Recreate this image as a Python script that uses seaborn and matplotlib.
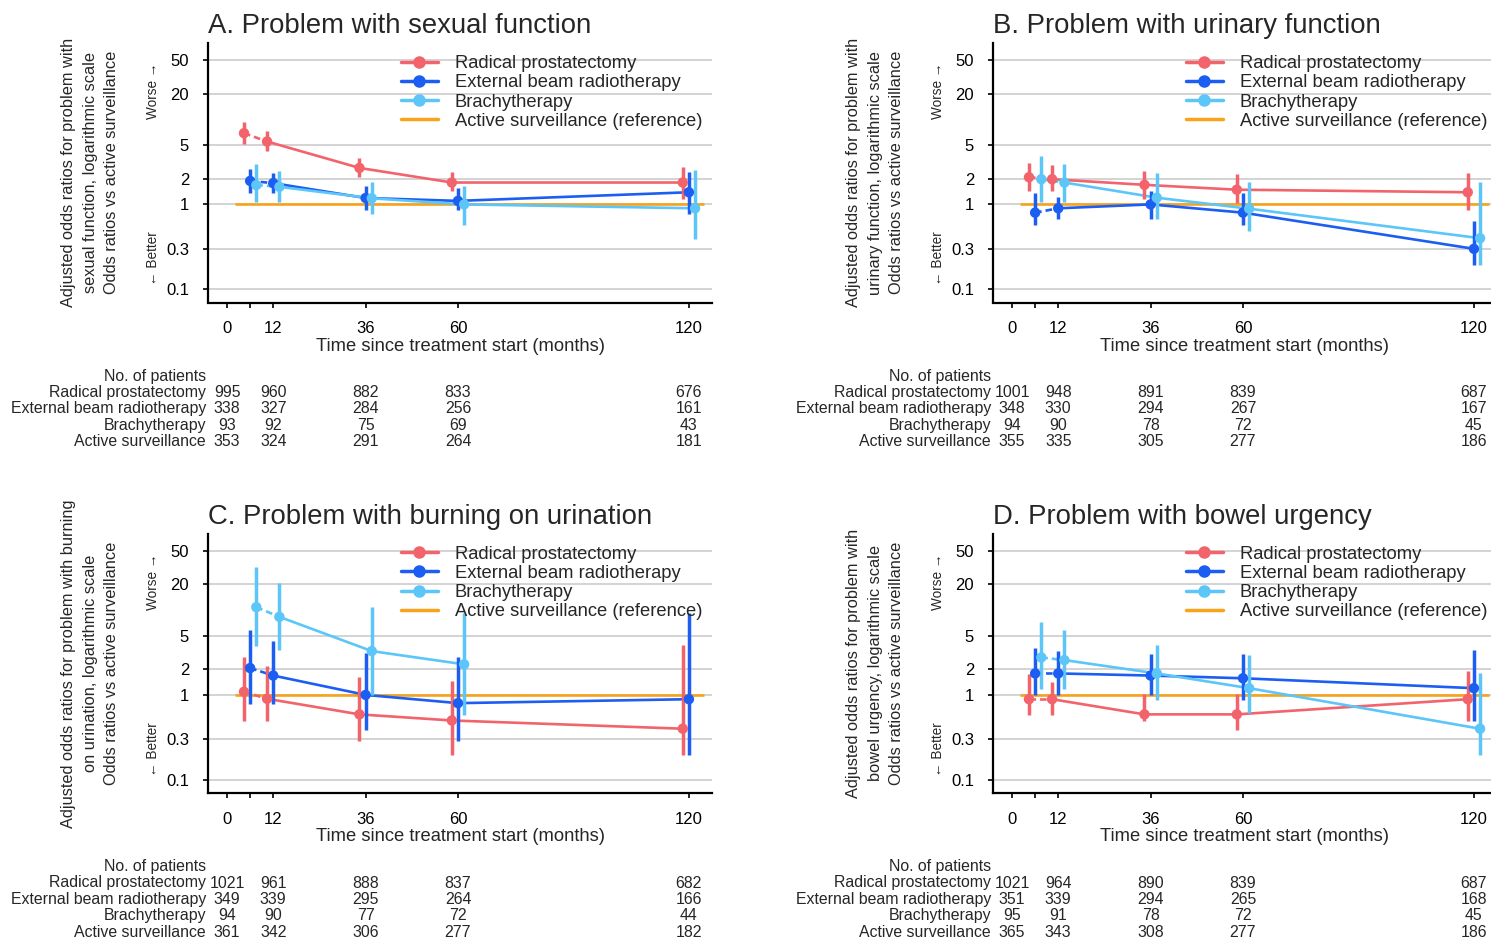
import numpy as np
import pandas as pd
import matplotlib
matplotlib.use("Agg")
import matplotlib.pyplot as plt
import matplotlib.transforms as mtransforms
from matplotlib.lines import Line2D
from matplotlib.ticker import NullLocator
import seaborn as sns

# ---------------- data ----------------
months = [6, 12, 36, 60, 120]
count_months = [0, 12, 36, 60, 120]
series_names = ["Radical prostatectomy", "External beam radiotherapy", "Brachytherapy"]
ref_name = "Active surveillance (reference)"
table_rows = ["Radical prostatectomy", "External beam radiotherapy", "Brachytherapy", "Active surveillance"]
y_ticks = [0.1, 0.3, 1, 2, 5, 20, 50]
y_tick_labels = ["0.1", "0.3", "1", "2", "5", "20", "50"]
x_ticks = [0, 6, 12, 36, 60, 120]
x_tick_labels = ["0", "", "12", "36", "60", "120"]

titles = ["A. Problem with sexual function", "B. Problem with urinary function",
          "C. Problem with burning on urination", "D. Problem with bowel urgency"]
ylabels = [
    "Adjusted odds ratios for problem with\nsexual function, logarithmic scale\nOdds ratios vs active surveillance",
    "Adjusted odds ratios for problem with\nurinary function, logarithmic scale\nOdds ratios vs active surveillance",
    "Adjusted odds ratios for problem with burning\non urination, logarithmic scale\nOdds ratios vs active surveillance",
    "Adjusted odds ratios for problem with\nbowel urgency, logarithmic scale\nOdds ratios vs active surveillance",
]

# Panel A: sexual function
A_rp = [6.9, 5.5, 2.69, 1.81, 1.81]
A_rp_lo = [5.1, 4.25, 2.09, 1.45, 1.16]
A_rp_hi = [9.4, 7.3, 3.49, 2.44, 2.79]
A_eb = [1.89, 1.78, 1.19, 1.10, 1.39]
A_eb_lo = [1.36, 1.35, 0.86, 0.87, 0.77]
A_eb_hi = [2.64, 2.35, 1.63, 1.54, 2.44]
A_bt = [1.69, 1.61, 1.18, 1.0, 0.90]
A_bt_lo = [1.06, 1.06, 0.77, 0.58, 0.39]
A_bt_hi = [2.97, 2.46, 1.84, 1.64, 2.57]

# Panel B: urinary function
B_rp = [2.09, 1.98, 1.70, 1.49, 1.39]
B_rp_lo = [1.43, 1.45, 1.16, 1.05, 0.87]
B_rp_hi = [3.08, 2.89, 2.48, 2.27, 2.35]
B_eb = [0.80, 0.90, 1.0, 0.80, 0.30]
B_eb_lo = [0.58, 0.67, 0.67, 0.58, 0.195]
B_eb_hi = [1.35, 1.23, 1.43, 1.35, 0.63]
B_bt = [1.98, 1.81, 1.20, 0.89, 0.40]
B_bt_lo = [1.06, 1.06, 0.67, 0.48, 0.195]
B_bt_hi = [3.68, 2.97, 2.35, 1.86, 1.86]

# Panel C: burning on urination
C_rp = [1.09, 0.90, 0.59, 0.50, 0.40]
C_rp_lo = [0.49, 0.49, 0.29, 0.195, 0.195]
C_rp_hi = [2.76, 2.17, 1.64, 1.45, 3.89]
C_eb = [2.07, 1.69, 1.0, 0.80, 0.89]
C_eb_lo = [0.78, 0.78, 0.39, 0.29, 0.195]
C_eb_hi = [5.78, 4.37, 3.08, 2.76, 9.2]
C_bt = [10.8, 8.3, 3.28, 2.29, np.nan]
C_bt_lo = [3.75, 3.34, 1.0, 0.58, np.nan]
C_bt_hi = [31.9, 20.7, 10.7, 9.3, np.nan]

# Panel D: bowel urgency
D_rp = [0.89, 0.89, 0.59, 0.59, 0.89]
D_rp_lo = [0.58, 0.58, 0.49, 0.39, 0.49]
D_rp_hi = [1.78, 1.43, 1.03, 1.03, 1.93]
D_eb = [1.79, 1.79, 1.69, 1.57, 1.20]
D_eb_lo = [1.0, 1.0, 1.0, 0.87, 0.49]
D_eb_hi = [3.55, 3.28, 3.05, 3.05, 3.34]
D_bt = [2.76, 2.57, 1.79, 1.2, 0.40]
D_bt_lo = [1.17, 1.17, 0.88, 0.61, 0.195]
D_bt_hi = [7.3, 5.78, 3.92, 2.97, 1.83]

# Number of patients
A_n_rp = [995, 960, 882, 833, 676]
A_n_eb = [338, 327, 284, 256, 161]
A_n_bt = [93, 92, 75, 69, 43]
A_n_as = [353, 324, 291, 264, 181]
B_n_rp = [1001, 948, 891, 839, 687]
B_n_eb = [348, 330, 294, 267, 167]
B_n_bt = [94, 90, 78, 72, 45]
B_n_as = [355, 335, 305, 277, 186]
C_n_rp = [1021, 961, 888, 837, 682]
C_n_eb = [349, 339, 295, 264, 166]
C_n_bt = [94, 90, 77, 72, 44]
C_n_as = [361, 342, 306, 277, 182]
D_n_rp = [1021, 964, 890, 839, 687]
D_n_eb = [351, 339, 294, 265, 168]
D_n_bt = [95, 91, 78, 72, 45]
D_n_as = [365, 343, 308, 277, 186]

ref_x = [2, 124]
ref_y = [1, 1]

# ---------------- style ----------------
colors = {"Radical prostatectomy": "#F2636B",
          "External beam radiotherapy": "#1C5DF2",
          "Brachytherapy": "#5BC6F7"}
ref_color = "#F7A31C"
dodge = {"Radical prostatectomy": -1.6, "External beam radiotherapy": 0.0, "Brachytherapy": 1.6}

sns.set_style("ticks")
plt.rcParams["font.family"] = ["Liberation Sans", "DejaVu Sans"]

panel_data = [
    ((A_rp, A_rp_lo, A_rp_hi), (A_eb, A_eb_lo, A_eb_hi), (A_bt, A_bt_lo, A_bt_hi),
     (A_n_rp, A_n_eb, A_n_bt, A_n_as)),
    ((B_rp, B_rp_lo, B_rp_hi), (B_eb, B_eb_lo, B_eb_hi), (B_bt, B_bt_lo, B_bt_hi),
     (B_n_rp, B_n_eb, B_n_bt, B_n_as)),
    ((C_rp, C_rp_lo, C_rp_hi), (C_eb, C_eb_lo, C_eb_hi), (C_bt, C_bt_lo, C_bt_hi),
     (C_n_rp, C_n_eb, C_n_bt, C_n_as)),
    ((D_rp, D_rp_lo, D_rp_hi), (D_eb, D_eb_lo, D_eb_hi), (D_bt, D_bt_lo, D_bt_hi),
     (D_n_rp, D_n_eb, D_n_bt, D_n_as)),
]

W, H = 1491, 939
fig = plt.figure(figsize=(W / 100, H / 100), dpi=100)
fig.patch.set_facecolor("white")

ax_w, ax_h = 504, 259.5
origins = [(208, 43), (993, 43), (208, 533.5), (993, 533.5)]

for i, (left, top) in enumerate(origins):
    ax = fig.add_axes([left / W, 1 - (top + ax_h) / H, ax_w / W, ax_h / H])
    rp, eb, bt, counts = panel_data[i]

    rows = []
    for name, (vals, lo, hi) in zip(series_names, (rp, eb, bt)):
        for m, v, l, h in zip(months, vals, lo, hi):
            rows.append({"series": name, "month": m, "xpos": m + dodge[name],
                         "or": v, "lo": l, "hi": h})
    df = pd.DataFrame(rows).dropna()

    ax.set_yscale("log")
    ax.set_ylim(0.07, 79.5)
    ax.set_xlim(-4.95, 126)

    # reference line
    ax.plot(ref_x, ref_y, color=ref_color, lw=1.9, zorder=2, solid_capstyle="butt")

    # solid segments from 12 months on
    sns.lineplot(data=df[df["month"] >= 12], x="xpos", y="or", hue="series",
                 hue_order=series_names, palette=colors, estimator=None, sort=True,
                 lw=1.9, legend=False, ax=ax, zorder=3)
    # dashed segment 6 -> 12 months
    sns.lineplot(data=df[df["month"] <= 12], x="xpos", y="or", hue="series",
                 hue_order=series_names, palette=colors, estimator=None, sort=True,
                 lw=1.9, linestyle=(0, (2.5, 1.5)), legend=False, ax=ax, zorder=3)

    for name in series_names:
        sub = df[df["series"] == name]
        ax.vlines(sub["xpos"], sub["lo"], sub["hi"], color=colors[name], lw=2.5, zorder=4)
    sns.scatterplot(data=df, x="xpos", y="or", hue="series", hue_order=series_names,
                    palette=colors, s=56, linewidth=0, legend=False, ax=ax, zorder=5)

    # axes styling
    ax.set_yticks(y_ticks)
    ax.set_yticklabels(y_tick_labels)
    ax.yaxis.set_minor_locator(NullLocator())
    ax.set_xticks(x_ticks)
    ax.set_xticklabels(x_tick_labels)
    ax.yaxis.grid(True, color="#c8c8c8", lw=1.1)
    ax.xaxis.grid(False)
    ax.set_axisbelow(True)
    for s in ("top", "right"):
        ax.spines[s].set_visible(False)
    for s in ("left", "bottom"):
        ax.spines[s].set_linewidth(1.6)
        ax.spines[s].set_color("black")
    ax.tick_params(axis="both", direction="out", length=3.6, width=1.2, pad=10,
                   labelsize=12, colors="black")
    ax.set_xlabel("Time since treatment start (months)", fontsize=13.2, labelpad=1)
    ax.set_ylabel("")

    ax.text(0, 1.037, titles[i], transform=ax.transAxes, fontsize=19.8,
            ha="left", va="baseline")
    ax.text(-0.234, 0.5, ylabels[i], transform=ax.transAxes, rotation=90,
            ha="center", va="center", multialignment="center", fontsize=11.8,
            linespacing=1.55)
    ax.text(-0.109, 0.815, "Worse \u2192", transform=ax.transAxes, rotation=90,
            ha="center", va="center", fontsize=9.8)
    ax.text(-0.109, 0.17, "\u2190 Better", transform=ax.transAxes, rotation=90,
            ha="center", va="center", fontsize=9.8)

    handles = [Line2D([], [], color=colors[n], lw=2.5, marker="o", markersize=8)
               for n in series_names]
    handles.append(Line2D([], [], color=ref_color, lw=2.5))
    ax.legend(handles, series_names + [ref_name], loc="upper left",
              bbox_to_anchor=((401 - 208) / ax_w, 0.953), frameon=False, fontsize=13.2,
              handlelength=2.0, handletextpad=0.92, labelspacing=0.12,
              borderpad=0, borderaxespad=0)

    # patient count table
    trans = mtransforms.blended_transform_factory(ax.transData, ax.transAxes)
    ax.text(-5.5, -74 / ax_h, "No. of patients", transform=trans, ha="right",
            va="center", fontsize=11.4)
    for r, (lab, vals) in enumerate(zip(table_rows, counts)):
        y = -(90 + 16.4 * r) / ax_h
        ax.text(-5.5, y, lab, transform=trans, ha="right", va="center", fontsize=11.4)
        for m, v in zip(count_months, vals):
            ax.text(m, y, str(v), transform=trans, ha="center", va="center", fontsize=11.4)

fig.savefig("out.png", dpi=100)
